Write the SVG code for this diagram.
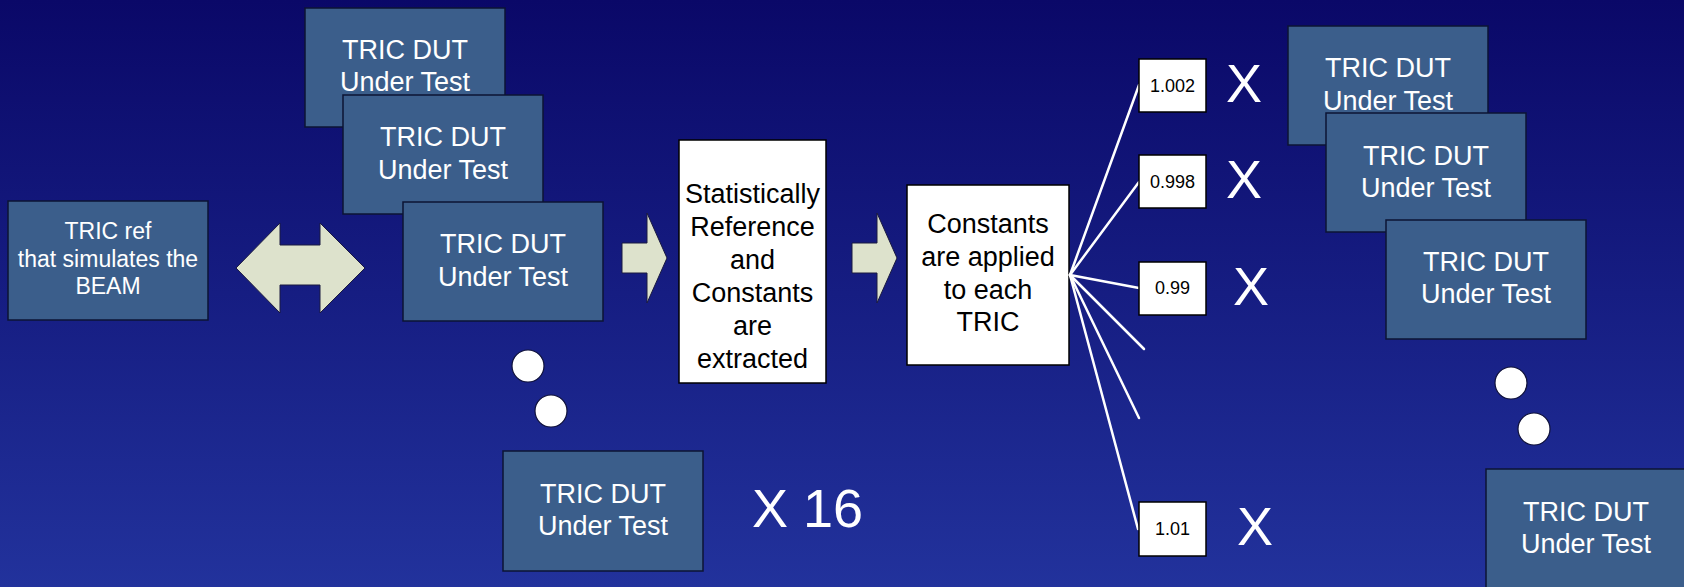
<svg xmlns="http://www.w3.org/2000/svg" width="1684" height="587" viewBox="0 0 1684 587">
  <defs>
    <linearGradient id="bg" x1="0" y1="0" x2="0" y2="1">
      <stop offset="0" stop-color="#0a0868"/>
      <stop offset="1" stop-color="#22329c"/>
    </linearGradient>
    <style>
      .dut { fill: #3b5e8b; stroke: #0c1434; stroke-width: 1.5; }
      .white { fill: #ffffff; stroke: #000000; stroke-width: 1.5; }
      .big { font-family: "Liberation Sans", Arial, sans-serif; font-size: 27px; text-anchor: middle; }
      .lt { fill: #ffffff; }
      .dk { fill: #000000; }
      .ref { font-family: "Liberation Sans", Arial, sans-serif; font-size: 23px; text-anchor: middle; fill: #ffffff; }
      .num { font-family: "Liberation Sans", Arial, sans-serif; font-size: 18px; text-anchor: middle; fill: #000000; }
      .mult { font-family: "Liberation Sans", Arial, sans-serif; font-size: 54px; fill: #ffffff; }
      .arrow { fill: #dde2cc; stroke: #1a1a40; stroke-width: 1; }
      .dot { fill: #ffffff; stroke: #10123a; stroke-width: 1.2; }
      .fan { stroke: #ffffff; stroke-width: 2.5; fill: none; stroke-linecap: round; }
    </style>
  </defs>

  <rect x="0" y="0" width="1684" height="587" fill="url(#bg)"/>

  <!-- reference board -->
  <g id="tric-ref">
    <rect class="dut" x="8" y="201" width="200" height="119"/>
    <text class="ref" x="108" y="239">TRIC ref</text>
    <text class="ref" x="108" y="267">that simulates the</text>
    <text class="ref" x="108" y="294">BEAM</text>
  </g>

  <!-- boards under test, left stack -->
  <g id="dut-l1">
    <rect class="dut" x="305" y="8" width="200" height="119"/>
    <text class="big lt" x="405" y="59">TRIC DUT</text>
    <text class="big lt" x="405" y="91">Under Test</text>
  </g>
  <g id="dut-l2">
    <rect class="dut" x="343" y="95" width="200" height="119"/>
    <text class="big lt" x="443" y="146">TRIC DUT</text>
    <text class="big lt" x="443" y="179">Under Test</text>
  </g>
  <g id="dut-l3">
    <rect class="dut" x="403" y="202" width="200" height="119"/>
    <text class="big lt" x="503" y="253">TRIC DUT</text>
    <text class="big lt" x="503" y="286">Under Test</text>
  </g>
  <g id="dots-left">
    <circle class="dot" cx="528" cy="366" r="16"/>
    <circle class="dot" cx="551" cy="411" r="16"/>
  </g>
  <g id="dut-l16">
    <rect class="dut" x="503" y="451" width="200" height="120"/>
    <text class="big lt" x="603" y="503">TRIC DUT</text>
    <text class="big lt" x="603" y="535">Under Test</text>
  </g>
  <text id="count" class="mult" x="752" y="527" font-size="53">X 16</text>

  <!-- processing steps -->
  <g id="extract">
    <rect class="white" x="679" y="140" width="147" height="243"/>
    <text class="big dk" x="752.5" y="203">Statistically</text>
    <text class="big dk" x="752.5" y="236">Reference</text>
    <text class="big dk" x="752.5" y="269">and</text>
    <text class="big dk" x="752.5" y="302">Constants</text>
    <text class="big dk" x="752.5" y="335">are</text>
    <text class="big dk" x="752.5" y="368">extracted</text>
  </g>
  <g id="apply">
    <rect class="white" x="907" y="185" width="162" height="180"/>
    <text class="big dk" x="988" y="233">Constants</text>
    <text class="big dk" x="988" y="266">are applied</text>
    <text class="big dk" x="988" y="299">to each</text>
    <text class="big dk" x="988" y="331">TRIC</text>
  </g>

  <!-- block arrows and fan-out -->
  <g id="connectors">
    <polygon class="arrow" points="236,268 280,223 280,245 320,245 320,223 365,268 320,313 320,285 280,285 280,313"/>
    <polygon class="arrow" points="622,243 647,243 647,213 667,258 647,303 647,273 622,273"/>
    <polygon class="arrow" points="852,243 877,243 877,213 897,258 877,303 877,273 852,273"/>
    <line class="fan" x1="1070" y1="275" x2="1139" y2="85"/>
    <line class="fan" x1="1070" y1="275" x2="1139" y2="182"/>
    <line class="fan" x1="1070" y1="275" x2="1139" y2="288"/>
    <line class="fan" x1="1070" y1="275" x2="1144" y2="349"/>
    <line class="fan" x1="1070" y1="275" x2="1139" y2="418"/>
    <line class="fan" x1="1070" y1="275" x2="1138" y2="529"/>
  </g>

  <!-- per-board constants -->
  <g id="k1">
    <rect class="white" x="1139" y="59" width="67" height="53"/>
    <text class="num" x="1172.5" y="92">1.002</text>
    <text class="mult" x="1226" y="102">X</text>
  </g>
  <g id="k2">
    <rect class="white" x="1139" y="155" width="67" height="53"/>
    <text class="num" x="1172.5" y="188">0.998</text>
    <text class="mult" x="1226" y="198">X</text>
  </g>
  <g id="k3">
    <rect class="white" x="1139" y="262" width="67" height="53"/>
    <text class="num" x="1172.5" y="294">0.99</text>
    <text class="mult" x="1233" y="305">X</text>
  </g>
  <g id="k16">
    <rect class="white" x="1139" y="502" width="67" height="54"/>
    <text class="num" x="1172.5" y="535">1.01</text>
    <text class="mult" x="1237" y="545">X</text>
  </g>

  <!-- boards under test, right stack -->
  <g id="dut-r1">
    <rect class="dut" x="1288" y="26" width="200" height="119"/>
    <text class="big lt" x="1388" y="77">TRIC DUT</text>
    <text class="big lt" x="1388" y="110">Under Test</text>
  </g>
  <g id="dut-r2">
    <rect class="dut" x="1326" y="113" width="200" height="119"/>
    <text class="big lt" x="1426" y="165">TRIC DUT</text>
    <text class="big lt" x="1426" y="197">Under Test</text>
  </g>
  <g id="dut-r3">
    <rect class="dut" x="1386" y="220" width="200" height="119"/>
    <text class="big lt" x="1486" y="271">TRIC DUT</text>
    <text class="big lt" x="1486" y="303">Under Test</text>
  </g>
  <g id="dots-right">
    <circle class="dot" cx="1511" cy="383" r="16"/>
    <circle class="dot" cx="1534" cy="429" r="16"/>
  </g>
  <g id="dut-r16">
    <rect class="dut" x="1486" y="469" width="200" height="122"/>
    <text class="big lt" x="1586" y="521">TRIC DUT</text>
    <text class="big lt" x="1586" y="553">Under Test</text>
  </g>
</svg>
